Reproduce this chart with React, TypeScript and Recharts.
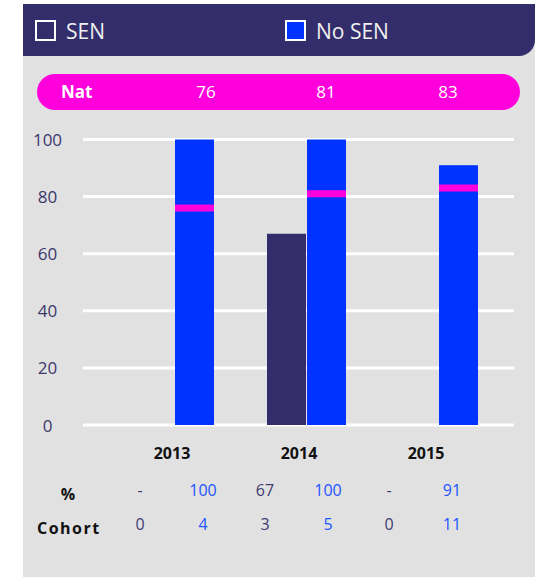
import React from 'react'
import { BarChart, Bar, XAxis, YAxis, CartesianGrid } from 'recharts'

// values
const years = ['2013', '2014', '2015']
const senPct: (number | null)[] = [null, 67, null]
const noSenPct = [100, 100, 91]
const natPct = [76, 81, 83]
const senCohort = [0, 3, 0]
const noSenCohort = [4, 5, 11]
const yTicks = [0, 20, 40, 60, 80, 100]

const NAVY = '#332d6c'
const BLUE = '#0033ff'
const MAGENTA = '#ff00dd'
const GRAY = '#e1e1e1'
const FONT = '"Open Sans", sans-serif'

const data = years.map((year, i) => ({
  year,
  sen: senPct[i],
  noSen: noSenPct[i],
  nat: natPct[i],
}))

// No SEN bar with the national figure marked on it
const NoSenBar = (props: any) => {
  const { x, y, width, height, payload } = props
  if (!height) return null
  const base = y + height
  const natY = base - (height * payload.nat) / payload.noSen
  return (
    <g>
      <rect x={x} y={y} width={width} height={height} fill={BLUE} />
      <rect x={x} y={natY - 3.5} width={width} height={7} fill={MAGENTA} />
    </g>
  )
}

const YTick = (props: any) => {
  const { y, payload } = props
  return (
    <text x={47.5} y={y} textAnchor="middle" dominantBaseline="central" fill="#3b376b" fontSize={17} fontFamily={FONT}>
      {payload.value}
    </text>
  )
}

const abs = (left: number, top: number, extra: React.CSSProperties = {}): React.CSSProperties => ({
  position: 'absolute', left, top, ...extra,
})

function LegendItem({ left, label, fill }: { left: number; label: string; fill: string }) {
  return (
    <>
      <div style={abs(left, 20, { width: 17, height: 17, border: '2px solid #fff', background: fill })} />
      <div style={abs(left + 31, 16, { color: '#f0f0f0', fontSize: 21, lineHeight: '30px' })}>{label}</div>
    </>
  )
}

const natX = [206, 326, 448]
const colX = [140, 203, 265, 328, 389, 452]
const yearX = [172, 299, 426]

export default function App() {
  const pctCells: { v: string; c: string }[] = []
  const cohortCells: { v: string; c: string }[] = []
  years.forEach((_, i) => {
    pctCells.push({ v: senPct[i] == null ? '-' : String(senPct[i]), c: '#3f3a73' })
    pctCells.push({ v: String(noSenPct[i]), c: '#2255ff' })
    cohortCells.push({ v: String(senCohort[i]), c: '#3f3a73' })
    cohortCells.push({ v: String(noSenCohort[i]), c: '#2255ff' })
  })

  return (
    <div style={{ position: 'absolute', left: 0, top: 0, width: 535, height: 577, overflow: 'hidden', fontFamily: FONT }}>
      <div style={abs(23, 4, { width: 512, height: 573, background: GRAY })} />
      <div style={abs(23, 4, { width: 512, height: 52, background: NAVY, borderBottomRightRadius: 16 })} />
      <LegendItem left={35} label="SEN" fill="transparent" />
      <LegendItem left={285} label="No SEN" fill={BLUE} />

      <div style={abs(37, 74, { width: 483, height: 36, borderRadius: 18, background: MAGENTA })} />
      <div style={abs(61, 74, { color: '#fff', fontWeight: 700, fontSize: 17, lineHeight: '36px' })}>Nat</div>
      {natPct.map((v, i) => (
        <div key={i} style={abs(natX[i] - 30, 74, { width: 60, textAlign: 'center', color: '#fff', fontSize: 17, lineHeight: '36px' })}>
          {v}
        </div>
      ))}

      <div style={abs(0, 0)}>
        <BarChart
          width={535}
          height={440}
          data={data}
          margin={{ top: 139.5, right: 21, bottom: 15, left: 0 }}
          barCategoryGap={26.5}
          barGap={1}
        >
          <CartesianGrid vertical={false} stroke="#ffffff" strokeWidth={3} />
          <XAxis dataKey="year" hide padding={{ left: 25.5, right: 9.5 }} />
          <YAxis domain={[0, 100]} ticks={yTicks} axisLine={false} tickLine={false} width={83} tick={<YTick />} />
          <Bar dataKey="sen" fill={NAVY} isAnimationActive={false} />
          <Bar dataKey="noSen" fill={BLUE} shape={<NoSenBar />} isAnimationActive={false} />
        </BarChart>
      </div>

      {years.map((y, i) => (
        <div key={y} style={abs(yearX[i] - 40, 441, { width: 80, textAlign: 'center', fontWeight: 700, fontSize: 16, lineHeight: '24px', color: '#111' })}>
          {y}
        </div>
      ))}
      <div style={abs(48, 482, { width: 40, textAlign: 'center', fontWeight: 700, fontSize: 16, lineHeight: '24px', color: '#111' })}>%</div>
      <div style={abs(37, 516, { fontWeight: 700, fontSize: 16, lineHeight: '24px', letterSpacing: 1.5, color: '#111' })}>Cohort</div>
      {pctCells.map((c, i) => (
        <div key={'p' + i} style={abs(colX[i] - 30, 478, { width: 60, textAlign: 'center', fontSize: 16, lineHeight: '24px', color: c.c })}>
          {c.v}
        </div>
      ))}
      {cohortCells.map((c, i) => (
        <div key={'c' + i} style={abs(colX[i] - 30, 512, { width: 60, textAlign: 'center', fontSize: 16, lineHeight: '24px', color: c.c })}>
          {c.v}
        </div>
      ))}
    </div>
  )
}
